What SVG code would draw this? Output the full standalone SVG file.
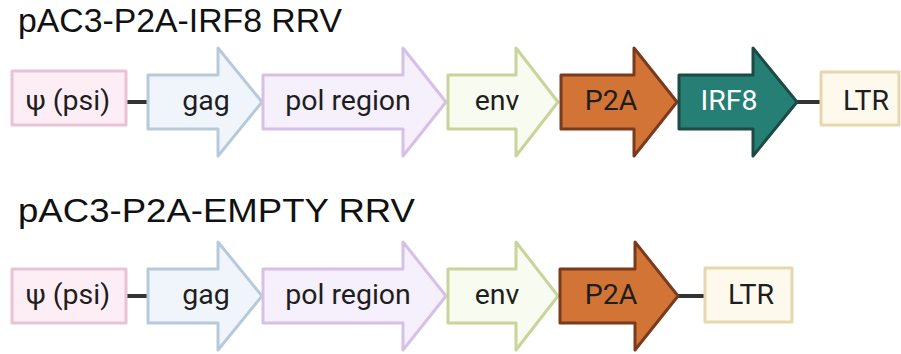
<svg xmlns="http://www.w3.org/2000/svg" width="901" height="354" viewBox="0 0 901 354">
<style>
.t{font-family:"Liberation Sans",Arial,sans-serif;font-size:33px;fill:#111}
.l{font-family:Roboto,"Liberation Sans",sans-serif;font-size:28.5px;fill:#1e1e1e;text-anchor:middle}
.w{fill:#fff}
.n{stroke-width:3;stroke-linejoin:round}
.psi{fill:#fdeef6;stroke:#e9c3d5}
.gag{fill:#eff5fb;stroke:#b9c9dc}
.pol{fill:#f6effc;stroke:#d6c0e8}
.env{fill:#f8fbf0;stroke:#c9d49a}
.p2a{fill:#d27436;stroke:#7a3a1e}
.irf{fill:#267f74;stroke:#1c4a44}
.ltr{fill:#fdfaed;stroke:#e6d8ac}
.c{stroke:#333;stroke-width:4;fill:none}
</style>
<text class="t" x="18" y="32" textLength="324" lengthAdjust="spacingAndGlyphs">pAC3-P2A-IRF8 RRV</text>
<text class="t" x="18" y="222" textLength="397" lengthAdjust="spacingAndGlyphs">pAC3-P2A-EMPTY RRV</text>
<g id="connectors">
<line class="c" x1="126" y1="102" x2="148" y2="102"/>
<line class="c" x1="797" y1="102" x2="821" y2="102"/>
<line class="c" x1="126" y1="296" x2="148" y2="296"/>
<line class="c" x1="678" y1="296" x2="705" y2="296"/>
</g>
<g id="psi1"><rect class="n psi" x="12" y="71" width="114" height="54"/><text class="l" x="68" y="110">ψ (psi)</text></g>
<g id="gag1"><path class="n gag" d="M148,75H218V48L262,102L218,156V129H148Z"/><text class="l" x="206" y="110">gag</text></g>
<g id="pol1"><path class="n pol" d="M263,75H403V48L446,102L403,156V129H263Z"/><text class="l" x="348" y="110">pol region</text></g>
<g id="env1"><path class="n env" d="M448,75H516V48L558,102L516,156V129H448Z"/><text class="l" x="497" y="110">env</text></g>
<g id="p2a1"><path class="n p2a" d="M561,75H634V48L677,102L634,156V129H561Z"/><text class="l" x="611" y="110">P2A</text></g>
<g id="irf8"><path class="n irf" d="M679,75H753V48L797,102L753,156V129H679Z"/><text class="l w" x="729" y="110">IRF8</text></g>
<g id="ltr1"><rect class="n ltr" x="821" y="72" width="78" height="53"/><text class="l" x="866" y="110">LTR</text></g>
<g id="psi2"><rect class="n psi" x="12" y="269" width="114" height="54"/><text class="l" x="68" y="304">ψ (psi)</text></g>
<g id="gag2"><path class="n gag" d="M148,269H218V242L262,296L218,350V323H148Z"/><text class="l" x="206" y="304">gag</text></g>
<g id="pol2"><path class="n pol" d="M263,269H403V242L446,296L403,350V323H263Z"/><text class="l" x="348" y="304">pol region</text></g>
<g id="env2"><path class="n env" d="M448,269H516V242L558,296L516,350V323H448Z"/><text class="l" x="497" y="304">env</text></g>
<g id="p2a2"><path class="n p2a" d="M560,269H635V242L678,296L635,350V323H560Z"/><text class="l" x="611" y="304">P2A</text></g>
<g id="ltr2"><rect class="n ltr" x="705" y="268" width="87" height="54"/><text class="l" x="751" y="304">LTR</text></g>
</svg>
